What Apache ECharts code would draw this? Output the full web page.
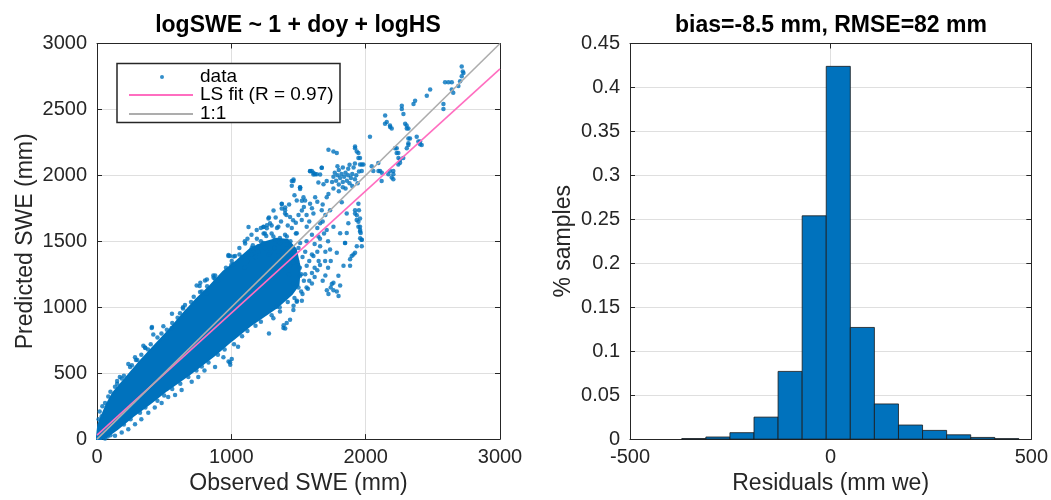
<!DOCTYPE html>
<html><head><meta charset="utf-8">
<script src="https://cdn.jsdelivr.net/npm/echarts@6/dist/echarts.min.js"></script>
<style>html,body{margin:0;padding:0;background:#fff}#c{width:1051px;height:500px}</style>
</head><body><div id="c"></div>
<script>
// ---- Left panel: observed vs predicted SWE (mm) ----
// outline of the solid (saturated) part of the point cloud
const cloudUpper = [[0,20],[10,110],[70,260],[120,350],[220,470],[320,590],[430,710],[540,830],[640,950],[740,1060],[840,1160],[940,1270],[1040,1350],[1140,1440],[1240,1490],[1340,1520],[1420,1510],[1480,1440]];
const cloudLower = [[1510,1300],[1500,1170],[1450,1100],[1340,1000],[1240,930],[1140,860],[1000,745],[880,640],[700,500],[520,370],[400,275],[270,175],[150,75],[60,10],[30,0],[0,0]];
// individual points around the cloud
const scatterPoints = [
[12,150],[20,210],[35,174],[40,250],[60,273],[84,323],[100,360],[134,397],[150,420],[184,459],[200,480],[233,570],[246,546],[283,620],[300,600],[345,707],[357,694],[380,680],[407,843],[419,793],[409,850],[494,855],[519,769],[556,843],[558,950],[640,999],[655,1017],[668,967],[618,955],[742,1165],[767,1116],[764,1161],[769,1186],[804,1202],[817,1103],[818,1211],[866,1240],[868,1223],[879,1215],[990,1388],[1003,1351],[1015,1326],[979,1397],[1017,1385],[1103,1484],[1128,1608],[1152,1450],[1201,1463],[1238,1487],[1240,1608],[1265,1621],[1314,1733],[1325,1512],[1362,1525],[1376,1782],[1401,1757],[1412,1475],[1463,1969],[1525,1807],[1525,1733],
[150,440],[170,470],[260,560],[290,600],[330,640],[360,690],[400,720],[450,770],[480,800],[520,830],[560,880],[600,920],[640,990],[700,1040],[720,1080],[780,1120],[820,1160],[880,1240],[900,1200],[960,1300],[1000,1320],[1060,1400],[1080,1380],
[60,5],[80,20],[134,25],[184,50],[233,75],[283,112],[330,150],[382,199],[430,240],[481,273],[530,320],[581,335],[630,372],[705,434],[754,471],[800,520],[879,546],[941,620],[990,583],[1003,608],[992,564],[979,589],[1050,700],[1280,800],[1313,917],[1338,1004],[1362,967],[1388,843],[1389,863],[1401,838],[1412,880],[1437,905],[1462,979],[1463,1012],[1487,1041],[1488,1049],[1525,1049],
[100,30],[200,110],[250,150],[320,200],[360,240],[450,290],[500,330],[560,380],[620,420],[680,470],[740,520],[780,550],[830,580],[900,640],[950,680],[1020,720],[1080,780],[1120,820],[1180,860],[1220,890],[1300,940],[1360,1000],[1420,1040],[1470,1070],[1530,1100],[1560,1150],[1580,1200],[1600,1260],[1620,1300],[1650,1350],
[1100,1300],[1120,1350],[1150,1400],[1180,1380],[1200,1420],[1220,1500],[1250,1450],[1260,1540],[1280,1400],[1300,1560],[1320,1450],[1340,1600],[1350,1500],[1370,1650],[1380,1420],[1400,1550],[1410,1700],[1420,1620],[1440,1500],[1450,1600],[1460,1660],[1470,1420],[1480,1560],[1490,1350],[1500,1450],[1510,1300],[1520,1250],[1530,1380],[1380,1350],[1430,1250],[1460,1180],[1500,1150],[1520,1120],[1540,1200],[1440,1320],[1350,1390],[1300,1620],[1280,1680],[1240,1560],[1190,1520],[1160,1470],
[1100,1500],[1150,1550],[1189,1586],[1276,1673],[1288,1636],[1350,1611],[1375,1748],[1400,1710],[1450,1958],[1512,1896],[1549,1809],[1599,2033],[1624,2008],[1624,1834],[1673,2057],[1673,1735],[1723,1859],[1028,1388],[978,1388],[1060,1450],[1120,1520],[1220,1600],[1330,1680],[1430,1780],[1470,1850],[1500,1700],[1540,1760],[1580,1650],[1480,1640],[1250,1560],[1180,1450],
[1550,1250],[1570,1140],[1600,1180],[1620,1230],[1640,1280],[1660,1320],[1680,1200],[1700,1240],[1580,1350],[1600,1400],[1640,1420],[1560,1500],[1600,1550],[1640,1600],[1680,1650],[1700,1700],[1560,1700],[1600,1750],[1640,1800],[1680,1780],[1550,1420],[1620,1480],[1660,1520],[1690,1560],[1720,1500],[1700,1420],[1740,1350],[1720,1300],
[1462,1958],[1450,1921],[1512,1908],[1586,2032],[1611,2007],[1661,2007],[1648,1946],[1686,1933],[1710,1958],[1375,1784],[1400,1735],[1437,1685],[1487,1809],[1537,1834],[1586,1784],[1611,1710],[1524,1661],[1561,1611],[1264,1599],[1239,1611],[1313,1537],[1363,1487],[1413,1537],[1462,1437],[1512,1487],[1661,1636],[1710,1586],[1760,1611],[1810,1561],[1847,1487],[1785,1413],[1735,1437],[1661,1462],[1611,1388],[1835,1314],[1797,1239],[1884,1314],[1921,1735],[1934,1698],[1946,1648],[1959,1586],[1959,1524],[1934,1462],[1909,1400],[1884,1363],[1748,1177],[1760,1128],[1810,1165],[1512,1239],[1561,1314],[1462,1338],[1363,1363],[1288,1413],[1710,1834],[1822,1797],[1859,1710],[1735,1735],[1487,1561],[1648,1537],[1698,1351],[1711,1128],[1723,1100],[1740,1150],[1760,1186],[1785,1120],[1798,1086],[1586,2033],[1611,2020],[1636,2008],[1673,2057],[1723,2194],[1760,2181],[1785,2169],[1512,1909],
[1946,1785],[1950,1735],[1958,1673],[1958,1611],[1963,1562],[1971,1512],[1971,1463],[1921,1413],[1896,1388],[1921,1710],[1933,1661],[1946,1611],[1958,1574],[1970,1512],[1859,1562],[1846,1487],[1871,1636],
[1750,1950],[1760,1990],[1770,2020],[1780,1960],[1790,2000],[1800,2040],[1800,1930],[1810,1980],[1820,2010],[1830,2060],[1830,1950],[1840,1990],[1850,2020],[1850,1900],[1860,1960],[1870,2000],[1870,2050],[1880,1940],[1890,1980],[1900,2010],[1900,1920],[1910,2060],[1920,1970],[1930,2000],[1940,1940],[1950,2030],[1800,1880],[1830,1910],[1760,1900],[1880,2080],[1920,2090],[1790,2070],
[1921,2218],[1934,2181],[1946,2132],[1958,2082],[1971,2033],[1983,2082],[1921,2206],[1946,2169],[1958,2132],[1971,2082],
[2032,2293],[2045,2070],[2057,2033],[2094,2094],[2107,2033],[2095,2033],[2120,2020],[2169,2008],[2194,1983],[2206,2033],[2119,1958],[2181,2033],[2206,2008],[2206,1971],
[2145,2454],[2157,2404],[2182,2367],[2194,2355],[2144,2392],[2181,2379],
[2219,2206],[2231,2169],[2244,2132],[2256,2095],[2231,2206],[2243,2169],[2256,2119],[2243,2082],[2280,2132],
[2269,2528],[2269,2503],[2281,2466],[2294,2392],[2306,2355],[2305,2379],[2318,2355],[2330,2280],[2318,2243],[2318,2280],[2318,2231],[2306,2206],[2392,2256],[2405,2236],[2380,2293],[2405,2256],[2417,2231],
[2356,2541],[2368,2565],[2455,2603],[2480,2652],[2579,2541],[2579,2503],[2591,2707],[2616,2707],[2641,2707],[2641,2652],[2652,2627],
[2690,2677],[2703,2714],[2715,2751],[2723,2788],[2715,2826],[2728,2776]
];
const fitLine = [[0,30],[3000,2808]];
const oneToOne = [[0,0],[3000,3000]];
const leftXTicks = [0, 3000, 1000];   // min, max, interval
const leftYTicks = [0, 3000, 500];

// ---- Right panel: histogram of residuals ----
const binEdges = [-371,-311,-251,-191,-131,-71,-11,49,109,169,229,289,349,409,469];
const binHeights = [0.0006,0.0024,0.0073,0.025,0.077,0.254,0.424,0.127,0.040,0.016,0.0099,0.0049,0.0019,0.0005];
const rightXTicks = [-500, 500, 500];
const rightYTicks = [0, 0.45, 0.05];

const FONT = '"Liberation Sans", Arial, Helvetica, sans-serif';
const AX = '#262626', GRID = '#dfdfdf', BLUE = '#0072BD';
const plain = v => String(+(+v).toFixed(4));

function mainAxis(gi, t, name, gap, pos, isY) {
  return {
    gridIndex: gi, type: 'value', min: t[0], max: t[1], interval: t[2], position: pos,
    axisLine: {show: true, onZero: false, lineStyle: {color: AX, width: 1}},
    axisTick: {show: true, inside: true, length: 5, lineStyle: {color: AX}},
    axisLabel: {show: true, color: AX, fontSize: 20, fontFamily: FONT, margin: isY ? 10 : 8, formatter: plain},
    splitLine: {show: true, lineStyle: {color: GRID, width: 1}},
    name: name, nameLocation: 'middle', nameGap: gap,
    nameTextStyle: {color: AX, fontSize: 23, fontFamily: FONT}
  };
}
function boxAxis(gi, t, pos) {
  return {
    gridIndex: gi, type: 'value', min: t[0], max: t[1], interval: t[2], position: pos,
    axisLine: {show: true, onZero: false, lineStyle: {color: AX, width: 1}},
    axisTick: {show: true, inside: true, length: 5, lineStyle: {color: AX}},
    axisLabel: {show: false}, splitLine: {show: false}
  };
}

const cloudOutline = cloudUpper.concat(cloudLower);
const histData = binHeights.map((h, i) => [binEdges[i], binEdges[i + 1], h]);

const chart = echarts.init(document.getElementById('c'), null, {renderer: 'canvas'});
chart.setOption({
  animation: false,
  backgroundColor: '#fff',
  textStyle: {fontFamily: FONT},
  title: [
    {text: 'logSWE ~ 1 + doy + logHS', left: 298, top: 14, textAlign: 'center', padding: 0,
     textStyle: {fontSize: 23, fontWeight: 'bold', color: '#000', fontFamily: FONT}},
    {text: 'bias=-8.5 mm, RMSE=82 mm', left: 831, top: 14, textAlign: 'center', padding: 0,
     textStyle: {fontSize: 23, fontWeight: 'bold', color: '#000', fontFamily: FONT}}
  ],
  grid: [
    {left: 97, top: 43.5, width: 403, height: 403},
    {left: 630, top: 43.5, width: 402, height: 403}
  ],
  xAxis: [
    mainAxis(0, leftXTicks, 'Observed SWE (mm)', 30, 'bottom', false),
    boxAxis(0, leftXTicks, 'top'),
    mainAxis(1, rightXTicks, 'Residuals (mm we)', 30, 'bottom', false),
    boxAxis(1, rightXTicks, 'top')
  ],
  yAxis: [
    mainAxis(0, leftYTicks, 'Predicted SWE (mm)', 60, 'left', true),
    boxAxis(0, leftYTicks, 'right'),
    mainAxis(1, rightYTicks, '% samples', 55, 'left', true),
    boxAxis(1, rightYTicks, 'right')
  ],
  legend: [
    {data: ['data'], orient: 'vertical', left: 160, top: 67.5, padding: 0, itemWidth: 4, itemHeight: 4, icon: 'circle', z: 20,
     textStyle: {fontSize: 19, lineHeight: 19, color: '#000', fontFamily: FONT, padding: [0, 0, 0, 31]}},
    {data: ['LS fit (R = 0.97)', '1:1'], orient: 'vertical', left: 129, top: 85.5, padding: 0, itemWidth: 64, itemHeight: 2, icon: 'rect', itemGap: 0, z: 20,
     textStyle: {fontSize: 19, lineHeight: 17, color: '#000', fontFamily: FONT, padding: [0, 0, 0, 2]}}
  ],
  graphic: [
    {type: 'rect', z: 15, shape: {x: 117, y: 63.5, width: 223, height: 59},
     style: {fill: '#fff', stroke: '#262626', lineWidth: 1.5}}
  ],
  series: [
    {type: 'custom', name: 'cloud', xAxisIndex: 0, yAxisIndex: 0, data: [cloudOutline[0]], z: 2, silent: true,
     renderItem: function (params, api) {
       const pts = cloudOutline.map(p => api.coord(p));
       return {type: 'polygon', shape: {points: pts}, style: {fill: BLUE, stroke: BLUE, lineWidth: 2}};
     }},
    {type: 'scatter', name: 'data', xAxisIndex: 0, yAxisIndex: 0, data: scatterPoints, symbolSize: 4.5,
     itemStyle: {color: BLUE}, z: 3},
    {type: 'line', name: 'LS fit (R = 0.97)', xAxisIndex: 0, yAxisIndex: 0, data: fitLine, showSymbol: false, symbol: 'none',
     lineStyle: {color: '#FF6EC0', width: 1.6}, itemStyle: {color: '#FF6EC0'}, z: 4},
    {type: 'line', name: '1:1', xAxisIndex: 0, yAxisIndex: 0, data: oneToOne, showSymbol: false, symbol: 'none',
     lineStyle: {color: '#ADADAD', width: 1.6}, itemStyle: {color: '#ADADAD'}, z: 5},
    {type: 'custom', name: 'residuals', xAxisIndex: 2, yAxisIndex: 2, data: histData, encode: {x: [0, 1], y: 2}, z: 3,
     renderItem: function (params, api) {
       const p0 = api.coord([api.value(0), api.value(2)]);
       const p1 = api.coord([api.value(1), 0]);
       return {type: 'rect', shape: {x: p0[0], y: p0[1], width: p1[0] - p0[0], height: p1[1] - p0[1]},
               style: {fill: BLUE, stroke: '#1a1a1a', lineWidth: 0.8}};
     }}
  ]
});
</script>
</body></html>
